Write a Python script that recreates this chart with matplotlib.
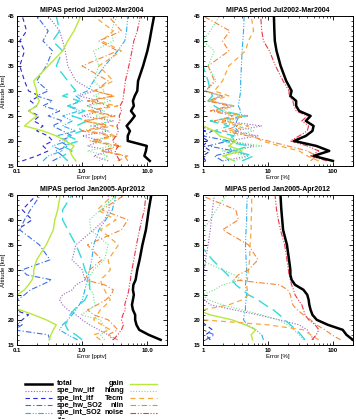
import matplotlib
import numpy as np

matplotlib.use("Agg")
import matplotlib.pyplot as plt

plt.rcParams["font.family"] = ["Liberation Sans", "DejaVu Sans"]
plt.rcParams["font.weight"] = "bold"

ALT = [16, 17, 18, 19, 20, 21, 22, 23, 24, 25, 26, 27, 28, 29, 30, 32, 35, 38, 40, 42, 45]

NAMES = ["total", "spe_hw_itf", "spe_int_itf", "spe_hw_SO2", "spe_int_SO2", "ils",
         "gain", "hlang", "Tecm", "nlin", "noise"]

# --- Jul2002-Mar2004, pptv ---
A1 = {
    "total": [10.9, 9.0, 9.5, 9.8, 5.0, 5.0, 5.4, 4.8, 5.6, 6.4, 5.6, 6.2, 6.0, 6.4, 7.0, 7.2, 8.6, 10.0, 10.8, 11.5, 12.7],
    "spe_hw_itf": [2.5, 1.5, 2.8, 1.2, 2.0, 1.0, 2.5, 1.5, 3.0, 1.0, 2.0, 1.2, 1.8, 0.9, 1.5, 0.8, 0.6, 0.55, 0.5, 0.45, 0.3],
    "spe_int_itf": [0.12, 0.2, 0.3, 0.25, 0.35, 0.3, 0.2, 0.25, 0.18, 0.22, 0.15, 0.2, 0.16, 0.22, 0.15, 0.13, 0.11, 0.13, 0.11, 0.14, 0.12],
    "spe_hw_SO2": [0.35, 0.5, 0.4, 0.6, 0.45, 0.7, 0.5, 0.35, 0.5, 0.3, 0.45, 0.25, 0.35, 0.2, 0.3, 0.2, 0.28, 0.35, 0.25, 0.3, 0.2],
    "spe_int_SO2": [0.25, 0.3, 0.5, 0.35, 0.6, 0.4, 0.8, 0.5, 0.7, 0.5, 0.9, 0.6, 1.0, 0.8, 1.2, 1.5, 2.2, 3.5, 4.5, 4.8, 5.0],
    "ils": [0.6, 0.5, 0.7, 0.5, 0.9, 0.6, 1.0, 0.8, 1.2, 0.7, 1.1, 0.6, 0.9, 0.5, 0.8, 0.6, 0.4, 0.5, 0.35, 0.45, 0.4],
    "gain": [0.8, 0.7, 0.65, 0.75, 0.55, 0.4, 0.25, 0.13, 0.16, 0.2, 0.15, 0.2, 0.22, 0.2, 0.2, 0.18, 0.3, 0.5, 0.6, 0.75, 0.95],
    "hlang": [1.8, 2.5, 1.2, 2.8, 1.5, 3.0, 2.5, 1.3, 2.8, 1.6, 2.2, 1.2, 2.8, 1.5, 2.2, 1.5, 1.8, 1.5, 3.0, 2.8, 3.4],
    "Tecm": [3.5, 5.0, 2.0, 4.0, 1.5, 3.5, 1.2, 3.0, 1.0, 2.8, 1.2, 3.5, 1.3, 3.2, 1.5, 3.0, 1.8, 4.0, 2.0, 3.0, 1.5],
    "nlin": [5.0, 4.5, 2.0, 3.5, 1.3, 2.8, 1.0, 2.4, 1.1, 3.2, 1.4, 2.6, 1.2, 3.0, 1.6, 2.5, 1.0, 3.5, 1.8, 4.0, 2.5],
    "noise": [3.8, 3.4, 3.2, 3.6, 2.9, 3.3, 3.6, 3.4, 3.8, 3.7, 4.0, 3.8, 4.2, 4.3, 4.4, 4.6, 5.2, 5.8, 6.2, 7.0, 7.8],
}

# --- Jul2002-Mar2004, % ---
A2 = {
    "total": [99, 50, 87, 55, 25, 38, 48, 50, 38, 45, 30, 27, 27, 22, 23, 19, 15.6, 13.5, 12.7, 12.5, 12.3],
    "spe_hw_itf": [2.0, 5.0, 3.0, 6.0, 2.5, 7.0, 3.0, 8.0, 2.0, 5.0, 1.5, 3.0, 1.2, 2.0, 1.0, 0.9, 0.7, 0.5, 0.5, 0.5, 0.5],
    "spe_int_itf": [1.1, 1.0, 1.3, 1.0, 1.2, 0.9, 1.1, 0.6, 0.6, 0.6, 0.6, 0.6, 0.6, 0.6, 0.6, 0.6, 0.6, 0.6, 0.6, 0.6, 0.6],
    "spe_hw_SO2": [2.0, 1.5, 3.0, 1.2, 2.5, 1.0, 1.4, 0.9, 0.5, 0.5, 0.5, 0.5, 0.5, 0.5, 0.5, 0.5, 0.5, 0.5, 0.5, 0.5, 0.5],
    "spe_int_SO2": [2.5, 2.2, 2.8, 2.5, 3.0, 2.8, 3.4, 3.0, 3.3, 3.6, 3.8, 3.5, 3.6, 3.7, 3.8, 3.8, 3.9, 4.0, 4.1, 4.2, 4.3],
    "ils": [4.0, 6.0, 3.0, 5.0, 2.0, 3.0, 1.5, 2.5, 1.3, 4.5, 2.0, 1.5, 1.2, 1.4, 1.3, 1.2, 1.0, 0.8, 0.7, 0.6, 0.5],
    "gain": [3.0, 2.0, 4.0, 2.5, 3.2, 1.8, 1.5, 1.0, 0.8, 0.8, 0.8, 0.8, 0.8, 0.8, 0.8, 0.8, 0.8, 0.8, 0.8, 0.8, 0.8],
    "hlang": [3.0, 5.0, 2.0, 8.0, 2.5, 3.0, 6.0, 3.5, 2.5, 4.5, 2.0, 3.0, 1.2, 1.8, 1.1, 1.6, 1.2, 1.5, 1.0, 1.3, 1.8],
    "Tecm": [60, 40, 30, 15, 8.0, 6.0, 2.5, 5.0, 2.0, 4.0, 1.5, 3.0, 1.3, 2.5, 1.5, 2.0, 2.5, 4.5, 5.0, 6.0, 5.5],
    "nlin": [45, 55, 40, 20, 10, 5.0, 2.0, 3.5, 1.5, 3.0, 1.3, 2.5, 1.2, 2.0, 1.1, 1.5, 1.2, 2.5, 2.0, 2.6, 1.0],
    "noise": [80, 45, 60, 40, 22, 30, 40, 42, 33, 40, 27, 25, 24, 21, 21, 17, 13, 10.5, 8.5, 8.0, 7.7],
}

# --- Jan2005-Apr2012, pptv ---
B1 = {
    "total": [16, 10.5, 7.5, 6.8, 6.5, 6.5, 6.0, 5.8, 6.0, 6.2, 6.0, 6.1, 6.6, 6.8, 7.0, 7.6, 8.4, 9.5, 10, 10.5, 11.5],
    "spe_hw_itf": [3.0, 2.5, 1.8, 1.3, 1.0, 0.8, 0.6, 0.5, 0.45, 0.5, 0.7, 0.8, 1.1, 1.05, 1.0, 0.7, 0.8, 1.5, 2.2, 2.6, 2.5],
    "spe_int_itf": [0.08, 0.08, 0.08, 0.1, 0.12, 0.15, 0.09, 0.08, 0.07, 0.07, 0.07, 0.07, 0.08, 0.07, 0.07, 0.08, 0.08, 0.1, 0.17, 0.12, 0.2],
    "spe_hw_SO2": [0.32, 0.3, 0.09, 0.12, 0.1, 0.08, 0.08, 0.09, 0.1, 0.13, 0.16, 0.24, 0.34, 0.14, 0.12, 0.32, 0.22, 0.11, 0.13, 0.16, 0.23],
    "spe_int_SO2": [0.85, 0.6, 0.45, 0.5, 0.6, 0.7, 0.8, 0.9, 1.0, 1.05, 1.1, 1.15, 1.2, 1.25, 1.3, 1.4, 1.5, 1.8, 2.3, 2.9, 3.3],
    "ils": [1.0, 0.8, 0.6, 0.55, 0.6, 0.65, 0.75, 0.9, 1.1, 1.2, 1.3, 1.3, 1.3, 1.2, 1.1, 1.0, 0.8, 0.6, 0.5, 0.5, 0.7],
    "gain": [0.31, 0.33, 0.36, 0.4, 0.28, 0.18, 0.11, 0.07, 0.08, 0.1, 0.13, 0.15, 0.17, 0.18, 0.18, 0.2, 0.28, 0.36, 0.38, 0.42, 0.46],
    "hlang": [2.2, 1.9, 2.4, 2.1, 1.9, 0.95, 1.3, 1.6, 1.5, 1.5, 1.35, 1.25, 1.2, 1.35, 1.5, 2.2, 2.5, 1.35, 1.3, 1.9, 3.4],
    "Tecm": [1.9, 1.5, 2.7, 2.0, 1.5, 1.7, 1.9, 2.3, 2.7, 2.4, 2.2, 2.0, 1.9, 2.3, 2.7, 2.5, 3.6, 1.9, 3.3, 1.7, 3.0],
    "nlin": [3.5, 2.5, 3.5, 3.0, 2.5, 1.5, 1.2, 1.7, 2.3, 2.8, 3.0, 2.2, 1.1, 1.2, 1.3, 2.0, 1.2, 4.0, 5.0, 2.0, 4.5],
    "noise": [3.0, 3.5, 4.0, 4.3, 4.0, 4.2, 4.6, 4.5, 4.7, 5.0, 5.2, 5.3, 5.5, 5.6, 5.8, 6.2, 6.8, 7.6, 8.2, 9.0, 9.5],
}

# --- Jan2005-Apr2012, % ---
B2 = {
    "total": [200, 160, 140, 83, 56, 48, 45, 43, 42, 40, 35, 26, 23, 22, 22, 21, 19.5, 17, 16.5, 16, 15.5],
    "spe_hw_itf": [50, 45, 40, 30, 15, 7.0, 3.0, 1.3, 1.05, 1.0, 1.0, 1.0, 1.0, 1.02, 1.05, 1.1, 1.2, 1.3, 1.35, 1.4, 1.5],
    "spe_int_itf": [1.3, 1.1, 1.4, 1.1, 0.9, 0.5, 0.5, 0.5, 0.5, 0.5, 0.5, 0.5, 0.5, 0.5, 0.5, 0.5, 0.5, 0.5, 0.5, 0.5, 0.5],
    "spe_hw_SO2": [1.1, 1.5, 1.0, 0.9, 0.5, 0.5, 0.5, 0.5, 0.5, 0.5, 0.5, 0.5, 0.5, 0.5, 0.5, 0.5, 0.5, 0.5, 0.5, 0.5, 0.5],
    "spe_int_SO2": [8.5, 8.0, 6.5, 4.8, 4.2, 4.3, 4.5, 4.5, 4.6, 4.7, 4.6, 4.5, 4.6, 4.65, 4.7, 4.6, 4.5, 4.6, 4.7, 4.7, 4.8],
    "ils": [37, 32, 27, 22, 18, 15, 12, 9.0, 7.0, 5.0, 4.0, 3.2, 2.8, 2.4, 2.0, 1.4, 0.9, 0.6, 0.5, 0.5, 0.5],
    "gain": [5.8, 5.5, 6.5, 4.5, 2.8, 1.3, 0.8, 0.5, 0.5, 0.5, 0.5, 0.5, 0.5, 0.5, 0.5, 0.5, 0.5, 0.5, 0.5, 0.5, 0.5],
    "hlang": [35, 30, 25, 20, 14, 8.0, 4.0, 2.0, 1.2, 1.0, 1.5, 2.0, 4.0, 3.0, 2.0, 0.9, 0.9, 1.0, 1.3, 1.6, 2.3],
    "Tecm": [60, 45, 35, 10, 1.0, 0.9, 1.0, 2.5, 4.0, 5.0, 4.8, 4.7, 4.8, 4.9, 5.0, 5.2, 5.3, 5.5, 5.5, 5.6, 5.6],
    "nlin": [130, 95, 75, 55, 45, 35, 28, 24, 23, 22, 20, 15, 3.0, 3.5, 5.0, 7.0, 5.0, 2.0, 3.5, 3.2, 0.9],
    "noise": [47, 55, 60, 53, 42, 37, 35, 33, 29, 26, 24.6, 23, 22, 21, 20.5, 19.5, 18, 15.5, 14.4, 13.5, 12.8],
}

STYLES = {
    "total": dict(color="black", lw=1.8, ls="-"),
    "spe_hw_itf": dict(color="#9a5fc8", lw=0.8, ls=(0, (1, 1.5))),
    "spe_int_itf": dict(color="#2a2ad0", lw=0.8, ls=(0, (4, 3))),
    "spe_hw_SO2": dict(color="#3c6ee0", lw=0.8, ls=(0, (5, 2, 1, 2))),
    "spe_int_SO2": dict(color="#2fb0ec", lw=0.8, ls=(0, (5, 1.5, 1, 1.5, 1, 1.5))),
    "ils": dict(color="#30dcd8", lw=1.0, ls=(0, (8, 4))),
    "gain": dict(color="#b8e83a", lw=1.0, ls="-"),
    "hlang": dict(color="#6ae68a", lw=0.8, ls=(0, (1, 1.5))),
    "Tecm": dict(color="#f8a838", lw=0.9, ls=(0, (4, 3))),
    "nlin": dict(color="#f0883c", lw=0.8, ls=(0, (5, 2, 1, 2))),
    "noise": dict(color="#e83848", lw=0.8, ls=(0, (5, 1.5, 1, 1.5, 1, 1.5))),
}

fig = plt.figure(figsize=(3.56, 4.19), dpi=100)

panels = [
    ([0.048, 0.604, 0.421, 0.358], A1, "MIPAS period Jul2002-Mar2004", (0.1, 20), [0.1, 1, 10], ["0.1", "1.0", "10.0"], "Error [pptv]", True),
    ([0.570, 0.604, 0.421, 0.358], A2, "MIPAS period Jul2002-Mar2004", (1, 200), [1, 10, 100], ["1", "10", "100"], "Error [%]", False),
    ([0.048, 0.177, 0.421, 0.358], B1, "MIPAS period Jan2005-Apr2012", (0.1, 20), [0.1, 1, 10], ["0.1", "1.0", "10.0"], "Error [pptv]", True),
    ([0.570, 0.177, 0.421, 0.358], B2, "MIPAS period Jan2005-Apr2012", (1, 200), [1, 10, 100], ["1", "10", "100"], "Error [%]", False),
]

for rect, data, title, xlim, xt, xtl, xlab, ylab in panels:
    ax = fig.add_axes(rect)
    for name in NAMES[1:] + ["total"]:
        ax.plot(data[name], ALT, **STYLES[name])
    ax.set_xscale("log")
    ax.set_xlim(*xlim)
    ax.set_ylim(15, 45)
    ax.set_xticks(xt)
    ax.set_xticklabels(xtl)
    ax.set_yticks([15, 20, 25, 30, 35, 40, 45])
    ax.yaxis.set_minor_locator(matplotlib.ticker.MultipleLocator(1))
    ax.tick_params(which="both", direction="in", top=True, right=True, labelsize=4.3, pad=2)
    ax.tick_params(which="major", length=3, width=0.6)
    ax.tick_params(which="minor", length=1.5, width=0.5)
    for sp in ax.spines.values():
        sp.set_linewidth(0.7)
    ax.set_title(title, fontsize=5, fontweight="bold", pad=2.5)
    ax.set_xlabel(xlab, fontsize=4.3, labelpad=1)
    if ylab:
        ax.set_ylabel("Altitude [km]", fontsize=4.3, labelpad=1)

# legend drawn in pixel coordinates
leg = fig.add_axes([0, 0, 1, 1])
leg.set_xlim(0, 356)
leg.set_ylim(419, 0)
leg.axis("off")
left_col = NAMES[:6]
right_col = NAMES[6:]
row_y = [383.5, 390.8, 398.1, 405.4, 412.7, 420.0]
for name, y in zip(left_col, row_y):
    leg.plot([25, 52], [y, y], **STYLES[name])
    leg.text(57, y, name, fontsize=5.3, va="center", ha="left")
for name, y in zip(right_col, row_y):
    leg.plot([130, 157], [y, y], **STYLES[name])
    leg.text(124, y, name, fontsize=5.3, va="center", ha="right")

fig.savefig("out.png", dpi=100)
